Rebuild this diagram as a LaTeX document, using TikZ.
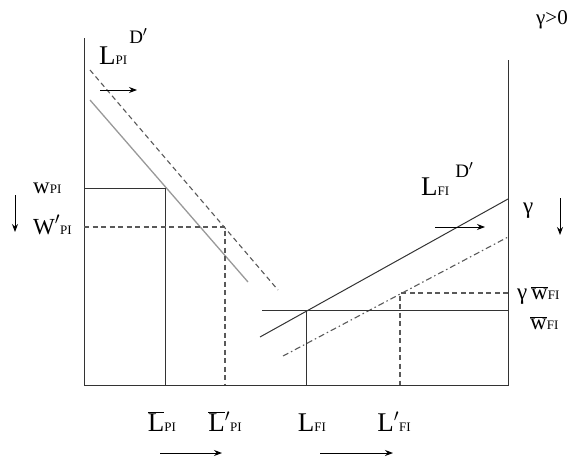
\documentclass[tikz,border=0pt]{standalone}
\usepackage{fontspec}
\setmainfont{Liberation Serif}
\usetikzlibrary{arrows.meta}
\newcommand\sbx[1]{{\fontsize{13}{13}\selectfont #1}}
\newcommand\bigf{\fontsize{27}{27}\selectfont}
\begin{document}
\begin{tikzpicture}[x=1pt,y=-1pt,
  ax/.style={draw=black!80,line width=1pt},
  ln/.style={draw=black!80,line width=1pt},
  lgray/.style={draw=black!40,line width=1.3pt},
  dsh/.style={draw=black!65,line width=1.1pt,dash pattern=on 5pt off 3.5pt},
  dshdot/.style={draw=black!65,line width=1.1pt,dash pattern=on 6pt off 3pt on 1.5pt off 3pt},
  arr/.style={draw=black,line width=1pt,-{Stealth[length=8pt,width=6pt]}},
  lab/.style={inner sep=0pt,anchor=base west,font=\bigf}]
\useasboundingbox (0,0) rectangle (585,463);
% axes
\coordinate (LT) at (84,38);
\coordinate (O) at (84,385);
\coordinate (RB) at (508,385);
\coordinate (RT) at (508,60);
\draw[ax] (LT) -- (O) -- (RB) -- (RT);
% PI demand curves
\coordinate (pa) at (90,100);
\coordinate (pb) at (248,282);
\draw[lgray] (pa) -- (pb);
\coordinate (qa) at (90,70);
\coordinate (qb) at (278,290);
\draw[dsh] (qa) -- (qb);
% PI wage lines
\coordinate (wpi) at (84,188);
\coordinate (epi) at (165,188);
\coordinate (lpi) at (165,385);
\draw[ln] (wpi) -- (epi) -- (lpi);
\coordinate (wpi2) at (84,227);
\coordinate (epi2) at (225,227);
\coordinate (lpi2) at (225,385);
\draw[dsh] (wpi2) -- (epi2) -- (lpi2);
% FI
\coordinate (fa) at (260,337);
\coordinate (fb) at (508,199);
\draw[ln] (fa) -- (fb);
\coordinate (ga) at (283,356);
\coordinate (gb) at (508,237);
\draw[dshdot] (ga) -- (gb);
\coordinate (wfa) at (262,310);
\coordinate (wfb) at (508,310);
\draw[ln] (wfa) -- (wfb);
\coordinate (efi) at (306,310);
\coordinate (lfi) at (306,385);
\draw[ln] (efi) -- (lfi);
\coordinate (gw) at (508,293);
\coordinate (efi2) at (400,293);
\coordinate (lfi2) at (400,385);
\draw[dsh] (gw) -- (efi2) -- (lfi2);
% labels
\node[lab] (LPID) at (99,64) {L\sbx{PI}\hspace{2pt}\raisebox{21pt}{\fontsize{19}{19}\selectfont D$'$}};
\node[lab] (LFID) at (421,195) {L\sbx{FI}\hspace{6pt}\raisebox{18pt}{\fontsize{19}{19}\selectfont D$'$}};
\node[lab,font=\fontsize{23}{23}\selectfont] (wPI) at (33,193) {w\sbx{PI}};
\node[lab,font=\fontsize{23}{23}\selectfont] (wPI2) at (33,234) {W$'$\sbx{PI}};
\node[lab,font=\fontsize{23}{23}\selectfont] (gam) at (523,213) {γ};
\node[lab,font=\fontsize{23}{23}\selectfont] (gwfi) at (517,299) {γ\,$\overline{\mbox{w}}$\sbx{FI}};
\node[lab,font=\fontsize{23}{23}\selectfont] (wfi) at (530,329) {$\overline{\mbox{w}}$\sbx{FI}};
\node[lab,font=\fontsize{21}{21}\selectfont] (gpos) at (536,24) {γ>0};
\node[lab,anchor=base] (bLPI) at (162,431) {$\overline{\mbox{L}}$\sbx{PI}};
\node[lab,anchor=base] (bLPI2) at (225,431) {$\overline{\mbox{L}}$$'$\sbx{PI}};
\node[lab,anchor=base] (LFI) at (312,431) {L\sbx{FI}};
\node[lab,anchor=base] (LFI2) at (394,431) {L$'$\sbx{FI}};
% arrows
\coordinate (a1s) at (100,90); \coordinate (a1e) at (137,90);
\draw[arr] (a1s) -- (a1e);
\coordinate (a2s) at (435,227); \coordinate (a2e) at (485,227);
\draw[arr] (a2s) -- (a2e);
\coordinate (a3s) at (15,195); \coordinate (a3e) at (15,232);
\draw[arr] (a3s) -- (a3e);
\coordinate (a4s) at (560,198); \coordinate (a4e) at (560,235);
\draw[arr] (a4s) -- (a4e);
\coordinate (a5s) at (160,453); \coordinate (a5e) at (222,453);
\draw[arr] (a5s) -- (a5e);
\coordinate (a6s) at (320,453); \coordinate (a6e) at (393,453);
\draw[arr] (a6s) -- (a6e);
\end{tikzpicture}
\end{document}
